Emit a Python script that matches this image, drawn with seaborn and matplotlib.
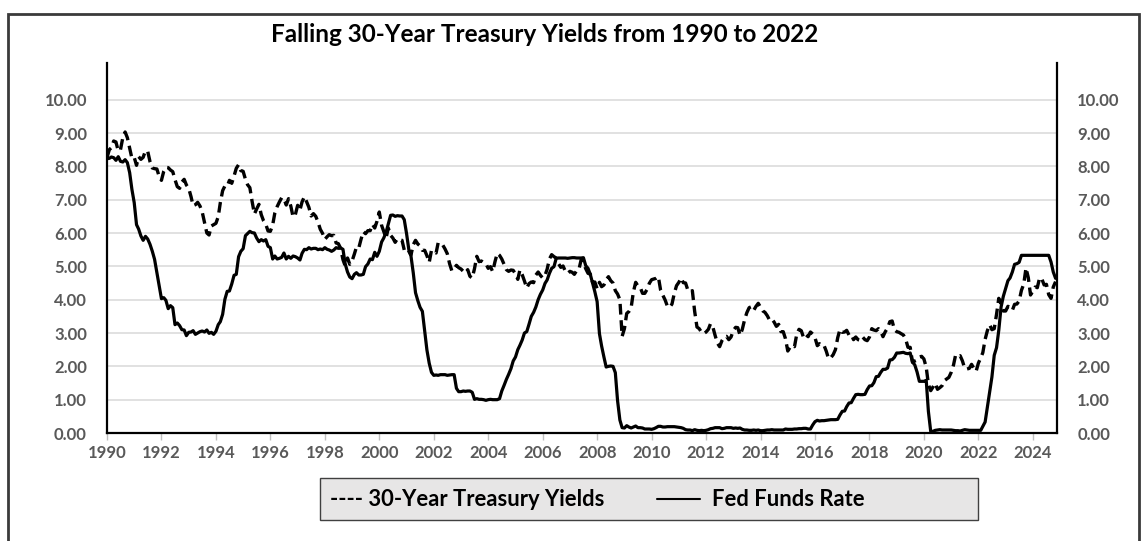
import pandas as pd
import matplotlib.pyplot as plt
import matplotlib.dates as mdates
import matplotlib.patches as mpatches
import matplotlib.lines as mlines
import seaborn as sns

# Monthly values, Jan 1990 .. Nov 2024 (one row per year)
treasury_30y = [
    8.26, 8.50, 8.56, 8.76, 8.73, 8.46, 8.50, 8.86, 9.03, 8.86, 8.54, 8.24,  # 1990
    8.27, 8.03, 8.29, 8.21, 8.27, 8.47, 8.45, 8.14, 7.95, 7.93, 7.92, 7.70,  # 1991
    7.58, 7.85, 7.97, 7.96, 7.89, 7.84, 7.60, 7.39, 7.34, 7.53, 7.61, 7.44,  # 1992
    7.34, 7.09, 6.82, 6.85, 6.92, 6.81, 6.63, 6.32, 6.00, 5.94, 6.21, 6.25,  # 1993
    6.29, 6.49, 6.91, 7.27, 7.41, 7.40, 7.58, 7.49, 7.71, 7.94, 8.05, 7.87,  # 1994
    7.85, 7.61, 7.45, 7.36, 6.95, 6.57, 6.72, 6.86, 6.55, 6.37, 6.26, 6.06,  # 1995
    6.05, 6.24, 6.60, 6.79, 6.93, 7.06, 7.03, 6.84, 7.03, 6.81, 6.48, 6.55,  # 1996
    6.83, 6.69, 6.93, 7.09, 6.94, 6.77, 6.51, 6.58, 6.50, 6.33, 6.11, 5.99,  # 1997
    5.81, 5.89, 5.95, 5.92, 5.93, 5.70, 5.68, 5.54, 5.20, 5.01, 5.25, 5.06,  # 1998
    5.16, 5.37, 5.58, 5.55, 5.81, 6.04, 5.98, 6.07, 6.07, 6.26, 6.15, 6.35,  # 1999
    6.63, 6.23, 6.05, 5.85, 6.15, 5.93, 5.85, 5.72, 5.83, 5.80, 5.78, 5.49,  # 2000
    5.54, 5.45, 5.34, 5.65, 5.78, 5.67, 5.61, 5.48, 5.48, 5.32, 5.12, 5.48,  # 2001
    5.45, 5.40, 5.71, 5.67, 5.64, 5.52, 5.38, 5.08, 4.86, 4.93, 5.03, 4.96,  # 2002
    4.92, 4.85, 4.80, 4.90, 4.70, 4.65, 4.93, 5.30, 5.14, 5.16, 5.11, 5.08,  # 2003
    4.94, 4.99, 4.84, 5.14, 5.39, 5.33, 5.22, 5.06, 4.90, 4.85, 4.89, 4.88,  # 2004
    4.77, 4.61, 4.89, 4.75, 4.56, 4.35, 4.48, 4.53, 4.51, 4.74, 4.83, 4.73,  # 2005
    4.65, 4.73, 4.91, 5.22, 5.35, 5.29, 5.25, 5.08, 4.97, 5.01, 4.85, 4.79,  # 2006
    4.85, 4.82, 4.76, 4.87, 4.90, 5.20, 5.11, 4.93, 4.79, 4.77, 4.52, 4.53,  # 2007
    4.33, 4.52, 4.39, 4.44, 4.60, 4.69, 4.57, 4.50, 4.27, 4.17, 4.00, 2.90,  # 2008
    3.13, 3.59, 3.64, 3.76, 4.23, 4.52, 4.41, 4.37, 4.19, 4.19, 4.31, 4.49,  # 2009
    4.60, 4.62, 4.64, 4.69, 4.29, 4.13, 3.99, 3.80, 3.77, 3.87, 4.19, 4.42,  # 2010
    4.52, 4.65, 4.51, 4.50, 4.29, 4.23, 4.27, 3.65, 3.18, 3.13, 3.02, 2.98,  # 2011
    3.03, 3.11, 3.28, 3.18, 2.93, 2.70, 2.59, 2.77, 2.88, 2.90, 2.80, 2.88,  # 2012
    3.08, 3.17, 3.16, 2.93, 3.11, 3.40, 3.61, 3.76, 3.79, 3.68, 3.80, 3.89,  # 2013
    3.77, 3.66, 3.62, 3.52, 3.39, 3.42, 3.33, 3.20, 3.26, 3.04, 3.04, 2.83,  # 2014
    2.46, 2.57, 2.63, 2.59, 2.96, 3.11, 3.07, 2.86, 2.95, 2.89, 3.03, 2.97,  # 2015
    2.86, 2.62, 2.68, 2.62, 2.63, 2.45, 2.23, 2.26, 2.35, 2.50, 2.86, 3.11,  # 2016
    3.02, 3.03, 3.08, 2.94, 2.96, 2.80, 2.88, 2.80, 2.78, 2.88, 2.80, 2.77,  # 2017
    2.88, 3.13, 3.09, 3.07, 3.13, 3.05, 2.89, 3.04, 3.15, 3.34, 3.36, 3.10,  # 2018
    3.04, 3.02, 2.98, 2.94, 2.82, 2.57, 2.57, 2.12, 2.16, 2.19, 2.28, 2.30,  # 2019
    2.22, 1.97, 1.46, 1.27, 1.38, 1.49, 1.31, 1.36, 1.42, 1.57, 1.62, 1.67,  # 2020
    1.82, 2.04, 2.34, 2.30, 2.32, 2.16, 1.94, 1.92, 1.94, 2.06, 1.94, 1.85,  # 2021
    2.10, 2.25, 2.41, 2.81, 3.07, 3.25, 3.10, 3.13, 3.56, 4.04, 3.87, 3.66,  # 2022
    3.66, 3.80, 3.77, 3.68, 3.86, 3.87, 3.96, 4.28, 4.47, 4.95, 4.66, 4.14,  # 2023
    4.26, 4.38, 4.36, 4.66, 4.62, 4.44, 4.46, 4.15, 4.04, 4.38, 4.54,        # 2024
]

fed_funds = [
    8.23, 8.24, 8.28, 8.26, 8.18, 8.29, 8.15, 8.13, 8.20, 8.11, 7.81, 7.31,  # 1990
    6.91, 6.25, 6.12, 5.91, 5.78, 5.90, 5.82, 5.66, 5.45, 5.21, 4.81, 4.43,  # 1991
    4.03, 4.06, 3.98, 3.73, 3.82, 3.76, 3.25, 3.30, 3.22, 3.10, 3.09, 2.92,  # 1992
    3.02, 3.03, 3.07, 2.96, 3.00, 3.04, 3.06, 3.03, 3.09, 2.99, 3.02, 2.96,  # 1993
    3.05, 3.25, 3.34, 3.56, 4.01, 4.25, 4.26, 4.47, 4.73, 4.76, 5.29, 5.45,  # 1994
    5.53, 5.92, 5.98, 6.05, 6.01, 6.00, 5.85, 5.74, 5.80, 5.76, 5.80, 5.60,  # 1995
    5.56, 5.22, 5.31, 5.22, 5.24, 5.27, 5.40, 5.22, 5.30, 5.24, 5.31, 5.29,  # 1996
    5.25, 5.19, 5.39, 5.51, 5.50, 5.56, 5.52, 5.54, 5.54, 5.50, 5.52, 5.50,  # 1997
    5.56, 5.51, 5.49, 5.45, 5.49, 5.56, 5.54, 5.55, 5.51, 5.07, 4.83, 4.68,  # 1998
    4.63, 4.76, 4.81, 4.74, 4.74, 4.76, 4.99, 5.07, 5.22, 5.20, 5.42, 5.30,  # 1999
    5.45, 5.73, 5.85, 6.02, 6.27, 6.53, 6.54, 6.50, 6.52, 6.51, 6.51, 6.40,  # 2000
    5.98, 5.49, 5.31, 4.80, 4.21, 3.97, 3.77, 3.65, 3.07, 2.49, 2.09, 1.82,  # 2001
    1.73, 1.74, 1.73, 1.75, 1.75, 1.75, 1.73, 1.74, 1.75, 1.75, 1.34, 1.24,  # 2002
    1.24, 1.26, 1.25, 1.26, 1.26, 1.22, 1.01, 1.03, 1.01, 1.01, 1.00, 0.98,  # 2003
    1.00, 1.01, 1.00, 1.00, 1.00, 1.03, 1.26, 1.43, 1.61, 1.76, 1.93, 2.16,  # 2004
    2.28, 2.50, 2.63, 2.79, 3.00, 3.04, 3.26, 3.50, 3.62, 3.78, 4.00, 4.16,  # 2005
    4.29, 4.49, 4.59, 4.79, 4.94, 4.99, 5.24, 5.25, 5.25, 5.25, 5.25, 5.24,  # 2006
    5.25, 5.26, 5.26, 5.25, 5.25, 5.25, 5.26, 5.02, 4.94, 4.76, 4.49, 4.24,  # 2007
    3.94, 2.98, 2.61, 2.28, 1.98, 2.00, 2.01, 2.00, 1.81, 0.97, 0.39, 0.16,  # 2008
    0.15, 0.22, 0.18, 0.15, 0.18, 0.21, 0.16, 0.16, 0.15, 0.12, 0.12, 0.12,  # 2009
    0.11, 0.13, 0.16, 0.20, 0.20, 0.18, 0.18, 0.19, 0.19, 0.19, 0.19, 0.18,  # 2010
    0.17, 0.16, 0.14, 0.10, 0.09, 0.09, 0.07, 0.10, 0.08, 0.07, 0.08, 0.07,  # 2011
    0.08, 0.10, 0.13, 0.14, 0.16, 0.16, 0.16, 0.13, 0.14, 0.16, 0.16, 0.16,  # 2012
    0.14, 0.15, 0.14, 0.15, 0.11, 0.09, 0.09, 0.08, 0.08, 0.09, 0.08, 0.09,  # 2013
    0.07, 0.07, 0.08, 0.09, 0.09, 0.10, 0.09, 0.09, 0.09, 0.09, 0.09, 0.12,  # 2014
    0.11, 0.11, 0.11, 0.12, 0.12, 0.13, 0.13, 0.14, 0.14, 0.12, 0.12, 0.24,  # 2015
    0.34, 0.38, 0.36, 0.37, 0.37, 0.38, 0.39, 0.40, 0.40, 0.40, 0.41, 0.54,  # 2016
    0.65, 0.66, 0.79, 0.90, 0.91, 1.04, 1.15, 1.16, 1.15, 1.15, 1.16, 1.30,  # 2017
    1.41, 1.42, 1.51, 1.69, 1.70, 1.82, 1.91, 1.91, 1.95, 2.19, 2.20, 2.27,  # 2018
    2.40, 2.40, 2.41, 2.42, 2.39, 2.38, 2.40, 2.13, 2.04, 1.83, 1.55, 1.55,  # 2019
    1.55, 1.58, 0.65, 0.05, 0.05, 0.08, 0.09, 0.10, 0.09, 0.09, 0.09, 0.09,  # 2020
    0.09, 0.08, 0.07, 0.07, 0.06, 0.08, 0.10, 0.09, 0.08, 0.08, 0.08, 0.08,  # 2021
    0.08, 0.08, 0.20, 0.33, 0.77, 1.21, 1.68, 2.33, 2.56, 3.08, 3.78, 4.10,  # 2022
    4.33, 4.57, 4.65, 4.83, 5.06, 5.08, 5.12, 5.33, 5.33, 5.33, 5.33, 5.33,  # 2023
    5.33, 5.33, 5.33, 5.33, 5.33, 5.33, 5.33, 5.33, 5.13, 4.83, 4.64,        # 2024
]

y_ticks = [0, 1, 2, 3, 4, 5, 6, 7, 8, 9, 10]
title = 'Falling 30-Year Treasury Yields from 1990 to 2022'
label_treasury = '---- 30-Year Treasury Yields'
label_fed = 'Fed Funds Rate'

dates = pd.date_range('1990-01-01', periods=len(fed_funds), freq='MS')
df = pd.DataFrame({'date': dates, 'treasury': treasury_30y, 'fed': fed_funds})

sns.set_style('white')
plt.rcParams['font.family'] = ['Lato', 'DejaVu Sans']

W, H = 1146, 541
fig = plt.figure(figsize=(W / 100, H / 100), dpi=100)
ax = fig.add_axes([107 / W, 1 - 433 / H, (1057 - 107) / W, (433 - 63) / H])

sns.lineplot(data=df, x='date', y='treasury', ax=ax, color='black',
             linewidth=2.4, linestyle=(0, (3.2, 1.7)))
sns.lineplot(data=df, x='date', y='fed', ax=ax, color='black', linewidth=2.3)

ax.set_ylim(0, 11.1)
ax.set_yticks(y_ticks)
ax.set_yticklabels([f'{v:.2f}' for v in y_ticks])
ax.set_xlim(pd.Timestamp('1990-01-01'), pd.Timestamp('2024-11-20'))
ax.xaxis.set_major_locator(mdates.YearLocator(2))
ax.xaxis.set_major_formatter(mdates.DateFormatter('%Y'))
ax.set_xlabel('')
ax.set_ylabel('')

ax.grid(axis='y', color='#d9d9d9', linewidth=1.1)
ax.grid(axis='x', visible=False)
ax.set_axisbelow(True)

for side in ['left', 'right', 'bottom']:
    ax.spines[side].set_visible(True)
    ax.spines[side].set_color('black')
    ax.spines[side].set_linewidth(1.6)
ax.spines['top'].set_visible(False)

ax.tick_params(axis='y', left=False, right=False, labelleft=True, labelright=True,
               labelsize=12, labelcolor='#595959', pad=11)
ax.tick_params(axis='x', bottom=True, length=5, width=1, color='#bfbfbf',
               labelsize=12, labelcolor='#595959', pad=4)
for lbl in ax.get_xticklabels() + ax.get_yticklabels():
    lbl.set_fontweight('bold')

fig.text(545 / W, 1 - 35 / H, title, ha='center', va='center',
         fontsize=17.5, fontweight='bold', color='black')

# outer frame
fig.patches.append(mpatches.Rectangle((8 / W, -0.05), (1139 - 8) / W, (541 - 14) / H + 0.05,
                                      transform=fig.transFigure, fill=False,
                                      edgecolor='#3a3a3a', linewidth=2))

# legend box
ly = 1 - 499 / H
fig.patches.append(mpatches.Rectangle((320 / W, 1 - 520 / H), (978 - 320) / W, 42 / H,
                                      transform=fig.transFigure, facecolor='#e7e6e6',
                                      edgecolor='#404040', linewidth=1))
fig.text(330 / W, ly, label_treasury, ha='left', va='center',
         fontsize=15.8, fontweight='bold', color='black')
fig.lines.append(mlines.Line2D([657 / W, 700 / W], [ly, ly], transform=fig.transFigure,
                               color='black', linewidth=1.5))
fig.text(712 / W, ly, label_fed, ha='left', va='center',
         fontsize=15.8, fontweight='bold', color='black')

fig.savefig('out.png', dpi=100)
